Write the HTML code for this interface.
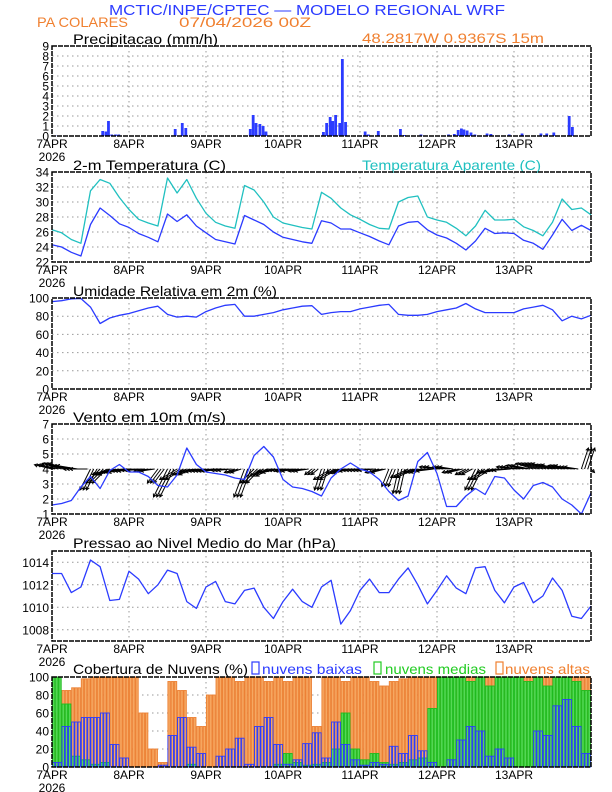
<!DOCTYPE html>
<html><head><meta charset="utf-8"><style>
html,body{margin:0;padding:0;background:#fff;}
svg{display:block;font-family:"Liberation Sans",sans-serif;}
</style></head><body>
<svg id="chart" width="612" height="792" viewBox="0 0 612 792" xmlns="http://www.w3.org/2000/svg">
<rect x="0" y="0" width="612" height="792" fill="#fff"/>
<text x="109" y="15" font-size="15" fill="#2b3bff" textLength="396" lengthAdjust="spacingAndGlyphs">MCTIC/INPE/CPTEC — MODELO REGIONAL WRF</text>
<text x="37" y="27" font-size="14" fill="#f08030" textLength="91" lengthAdjust="spacingAndGlyphs">PA COLARES</text>
<text x="179" y="27" font-size="14" fill="#f08030" textLength="132" lengthAdjust="spacingAndGlyphs">07/04/2026 00Z</text>
<text x="362" y="43" font-size="14" fill="#f08030" textLength="182" lengthAdjust="spacingAndGlyphs">48.2817W 0.9367S 15m</text>
<text x="73" y="44" font-size="14" fill="#000" textLength="145" lengthAdjust="spacingAndGlyphs">Precipitacao (mm/h)</text>
<text x="73" y="170" font-size="14" fill="#000" textLength="153" lengthAdjust="spacingAndGlyphs">2-m Temperatura (C)</text>
<text x="362" y="170" font-size="14" fill="#20c0c0" textLength="179" lengthAdjust="spacingAndGlyphs">Temperatura Aparente (C)</text>
<text x="73" y="296" font-size="14" fill="#000" textLength="204" lengthAdjust="spacingAndGlyphs">Umidade Relativa em 2m (%)</text>
<text x="73" y="422" font-size="14" fill="#000" textLength="153" lengthAdjust="spacingAndGlyphs">Vento em 10m (m/s)</text>
<text x="73" y="548" font-size="14" fill="#000" textLength="263" lengthAdjust="spacingAndGlyphs">Pressao ao Nivel Medio do Mar (hPa)</text>
<text x="73" y="674" font-size="14" fill="#000" textLength="175" lengthAdjust="spacingAndGlyphs">Cobertura de Nuvens (%)</text>
<rect x="252" y="662" width="7" height="12" fill="none" stroke="#2b3bff" stroke-width="1.2"/>
<text x="262" y="674" font-size="14" fill="#2b3bff" textLength="100" lengthAdjust="spacingAndGlyphs">nuvens baixas</text>
<rect x="374" y="662" width="7" height="12" fill="none" stroke="#22cc22" stroke-width="1.2"/>
<text x="385" y="674" font-size="14" fill="#22cc22" textLength="101" lengthAdjust="spacingAndGlyphs">nuvens medias</text>
<rect x="496" y="662" width="7" height="12" fill="none" stroke="#f08030" stroke-width="1.2"/>
<text x="505" y="674" font-size="14" fill="#f08030" textLength="85" lengthAdjust="spacingAndGlyphs">nuvens altas</text>
</svg>
<script>
// ---- data (3-hourly, hour = 3*i) ----
const precipHours=[1,15.8,16.8,17.6,18.6,19.8,20.8,38.4,40.6,41.7,61.8,62.7,63.6,64.8,65.8,66.7,84.6,85.6,86.7,87.5,88.4,89.7,90.5,91.5,97.6,98.6,101.7,108.6,109.8,115,123.6,125.4,126.6,127.6,128.4,129.4,130.6,131.8,135.6,136.8,142.5,146.5,152.4,154.2,156.4,161.2,162.2];
const precipValues=[0.05,0.5,0.45,1.5,0.15,0.15,0.15,0.7,1.3,0.8,0.7,2.1,1.3,1.2,1.0,0.45,0.4,1.3,1.9,1.5,2.1,1.3,7.7,1.4,0.45,0.15,0.5,0.7,0.1,0.15,0.15,0.2,0.6,0.75,0.65,0.55,0.35,0.15,0.25,0.2,0.15,0.25,0.25,0.25,0.35,2.0,0.9];
const temp2m=[24.3,24.0,23.3,22.8,27.0,29.2,28.2,27.1,26.6,25.8,25.3,24.7,28.4,27.4,28.3,26.8,25.9,25.0,24.7,24.4,28.2,27.6,27.0,26.0,25.3,25.0,24.7,24.5,27.5,27.2,26.4,26.4,25.9,25.4,24.8,24.3,26.8,27.3,27.4,26.3,25.6,25.2,24.5,23.6,24.8,26.5,25.8,25.9,25.8,24.9,24.5,23.7,25.6,27.7,26.2,26.9,26.2];
const tempApparent=[26.3,25.9,25.0,24.5,31.5,33.0,32.5,30.6,29.0,27.7,27.2,26.8,33.2,31.2,33.0,30.5,28.5,27.3,26.8,26.5,32.2,31.6,30.0,28.0,27.2,26.9,26.6,26.4,31.3,30.5,29.2,28.3,27.7,27.0,26.5,26.4,30.0,30.6,30.8,28.0,27.6,27.3,26.5,25.5,26.8,28.9,27.6,27.6,27.7,26.7,26.2,25.5,27.3,30.4,29.0,29.2,28.3];
const humidity=[96,97,99,99.5,90,72,78,81,83,86,89,91,82,79,80,79,85,89,92,93,80,80,82,84,87,89,91,91.5,82,84,85,85,88,90,92,93,82,81,81,82,85,87,89,94,88,84,84,84,84,88,90,92,87,75,80,77,81];
const windSpeed=[1.6,1.7,1.9,2.8,3.5,2.7,3.9,4.3,3.8,3.8,3.5,2.9,2.8,3.6,5.4,4.3,3.8,3.7,3.6,3.4,3.3,4.9,5.5,4.8,3.3,2.8,2.7,2.5,2.2,3.4,4.0,4.4,4.0,3.8,3.3,2.5,1.9,2.2,4.5,5.1,3.7,1.5,1.5,2.2,2.7,2.3,3.5,3.4,2.6,2.0,2.9,3.1,2.8,2.0,1.6,1.0,2.4];
const windU=[-2.5,-2.8,-3.0,-2.5,-1.5,-2.0,-2.5,-2.5,-2.5,-2.5,-2.0,-1.5,-2.0,-2.5,-2.0,-2.5,-2.5,-2.5,-2.0,-1.5,-1.5,-2.0,-2.0,-2.5,-2.5,-2.5,-2.0,-1.0,-1.0,-2.5,-2.0,-2.5,-2.5,-2.5,-2.0,-1.0,-0.8,-2.5,-2.0,-2.5,-2.5,-2.0,-2.0,-1.5,-1.5,-2.5,-2.5,-2.5,-2.5,-2.5,-2.5,-2.5,-2.5,-2.0,-2.0,1.0,0.5];
const windV=[0.6,0.8,0.5,0.0,-3.0,-2.0,-0.8,-0.5,-0.3,-0.2,-0.3,-2.0,-4.0,-1.5,-0.8,-0.4,-0.3,-0.3,-0.2,-0.5,-4.0,-2.0,-1.0,-0.5,-0.2,-0.3,-0.3,-0.8,-3.0,-1.5,-0.6,-0.3,-0.2,-0.2,-0.5,-2.5,-3.5,-1.2,-0.5,-0.3,0.3,0.3,-0.5,-0.8,-3.0,-1.5,-0.5,-0.2,0.3,0.5,0.8,0.8,0.6,0.5,0.3,3.0,-0.5];
const pressure=[1013.0,1013.0,1011.3,1011.8,1014.2,1013.6,1010.6,1010.7,1013.2,1012.5,1011.2,1012.0,1013.3,1013.0,1010.5,1009.9,1011.8,1012.3,1010.5,1010.3,1011.5,1011.7,1010.0,1009.0,1010.5,1011.6,1010.5,1010.0,1011.8,1012.4,1008.5,1009.7,1011.5,1012.5,1011.3,1011.3,1012.5,1013.5,1012.0,1010.3,1011.5,1012.8,1011.7,1011.2,1013.5,1013.6,1011.5,1010.4,1011.8,1012.2,1010.4,1011.0,1012.6,1011.5,1009.2,1009.0,1010.1];
const cloudHigh=[60,85,88,98,100,100,100,100,100,60,20,5,95,85,55,45,80,100,100,95,100,100,95,100,95,100,100,45,100,100,95,100,100,95,90,95,98,100,100,100,100,100,100,100,100,100,100,100,100,100,100,100,100,100,100,100,95];
const cloudMid=[100,70,12,8,3,5,0,0,0,0,0,0,0,0,3,0,0,0,0,0,0,0,0,3,15,5,2,3,5,20,60,20,8,15,5,3,5,8,10,65,100,100,100,95,100,90,100,100,100,95,100,90,100,100,95,85,82];
const cloudLow=[5,45,50,55,55,60,25,10,0,0,0,2,35,55,22,15,0,12,20,32,3,45,55,25,3,8,26,38,10,50,25,8,2,5,3,23,15,35,18,5,0,8,30,45,40,12,20,10,0,0,40,35,68,75,45,15,2];
const dayLabels=['7APR','8APR','9APR','10APR','11APR','12APR','13APR'];
const precipTicks=[0,1,2,3,4,5,6,7,8,9];
const tempTicks=[22,24,26,28,30,32,34];
const humTicks=[0,20,40,60,80,100];
const windTicks=[1,2,3,4,5,6,7];
const presTicks=[1008,1010,1012,1014];
const cloudTicks=[0,20,40,60,80,100];

const svg=document.getElementById('chart');
const NS='http://www.w3.org/2000/svg';
const X0=52,X1=591,NH=168;
const xs=h=>X0+h*(X1-X0)/NH;
function mk(tag,attrs,parent){const e=document.createElementNS(NS,tag);for(const k in attrs)e.setAttribute(k,attrs[k]);(parent||svg).appendChild(e);return e;}

function panel(name,top,bot,min,max,ticks){
  const ys=v=>bot-(v-min)/(max-min)*(bot-top);
  const g=mk('g',{});
  
  
  ticks.forEach(t=>{
    const y=ys(t);
    if(y>top+0.5&&y<bot-0.5){const l=mk('line',{x1:X0,x2:X1,y1:y,y2:y,stroke:'#999','stroke-width':1,'stroke-dasharray':'1.5,3.5'},g);
      
      }
    const tx=mk('text',{x:49,y:y+4.5,'font-size':12,'text-anchor':'end',fill:'#000'},g);
    tx.textContent=String(t);
    
    
  });
  dayLabels.forEach((d,i)=>{
    const x=xs(i*24);
    if(i>0){const l=mk('line',{x1:x,x2:x,y1:top,y2:bot,stroke:'#999','stroke-width':1,'stroke-dasharray':'1.5,3.5'},g);
      
      }
    const tx=mk('text',{x:x,y:bot+12,'font-size':12,'text-anchor':'middle',fill:'#000'},g);
    tx.textContent=d;
    
    
  });
  const yr=mk('text',{x:X0,y:bot+25,'font-size':12,'text-anchor':'middle',fill:'#000'},g);
  yr.textContent='2026';
  
  
  return {ys,g,top,bot};
}
function frame(p,name){
  const r=mk('rect',{x:X0,y:p.top,width:X1-X0,height:p.bot-p.top,fill:'none',stroke:'#000','stroke-width':1.5,'stroke-dasharray':'5,1'});
  
  
}
function line(p,arr,color,name){
  const pts=arr.map((v,i)=>xs(Math.min(i*3,NH)).toFixed(1)+','+p.ys(v).toFixed(1)).join(' ');
  const pl=mk('polyline',{points:pts,fill:'none',stroke:color,'stroke-width':1.3,'stroke-linejoin':'round'});
  
  
}
const step=(X1-X0)/NH;

// precip
const P1=panel('precip',46,136,0,9,precipTicks);
precipHours.forEach((h,i)=>{
  const y=P1.ys(precipValues[i]);
  const r=mk('rect',{x:xs(h)-1.4,y:y,width:2.8,height:P1.bot-y,fill:'#2b3bff'});
  
  
});
frame(P1,'precip');

// temperature
const P2=panel('temp',172,262,22,34,tempTicks);
line(P2,tempApparent,'#20c0c0','apparent-temp-line');
line(P2,temp2m,'#2b3bff','temp-line');
frame(P2,'temp');

// humidity
const P3=panel('humidity',298,389,0,100,humTicks);
line(P3,humidity,'#2b3bff','humidity-line');
frame(P3,'humidity');

// wind (each 3-hourly vector drawn at its three hourly slots)
const P4=panel('wind',424,514,1,7,windTicks);
const y4=P4.ys(4);
windU.forEach((u,i)=>{
  for(let s=0;s<3;s++){
    const h=i*3+s; if(h>NH) break;
    const x=xs(h), k=7;
    const ex=x+u*k, ey=y4-windV[i]*k;
    const ang=Math.atan2(ey-y4,ex-x), hl=3.5;
    const d=`M${x},${y4}L${ex},${ey}M${ex-hl*Math.cos(ang-0.5)},${ey-hl*Math.sin(ang-0.5)}L${ex},${ey}L${ex-hl*Math.cos(ang+0.5)},${ey-hl*Math.sin(ang+0.5)}`;
    const a=mk('path',{d:d,stroke:'#000','stroke-width':1,fill:'none'});
    
    
  }
});
line(P4,windSpeed,'#2b3bff','wind-speed-line');
frame(P4,'wind');

// pressure
const P5=panel('pressure',551,641,1007,1015,presTicks);
line(P5,pressure,'#2b3bff','pressure-line');
frame(P5,'pressure');

// clouds (each 3-hourly value drawn as three hourly bars)
const P6=panel('cloud',677,767,0,100,cloudTicks);
function bars(arr,fill,stroke,name){
  arr.forEach((v,i)=>{
    for(let s=0;s<3;s++){
      const h=i*3+s; if(h>=NH) break;
      const x=xs(h)+0.4, w=step-0.8;
      const y=P6.ys(v);
      const r=mk('rect',{x:x,y:y,width:w,height:P6.bot-y,fill:fill,stroke:stroke,'stroke-width':0.9});
      
      
    }
  });
}
bars(cloudHigh,'#f6a862','#ec8034','cloud-high-bar');
bars(cloudMid,'#55d855','#1fbb1f','cloud-mid-bar');
bars(cloudLow,'none','#2b3bff','cloud-low-bar');
frame(P6,'cloud');
</script>
</body></html>
